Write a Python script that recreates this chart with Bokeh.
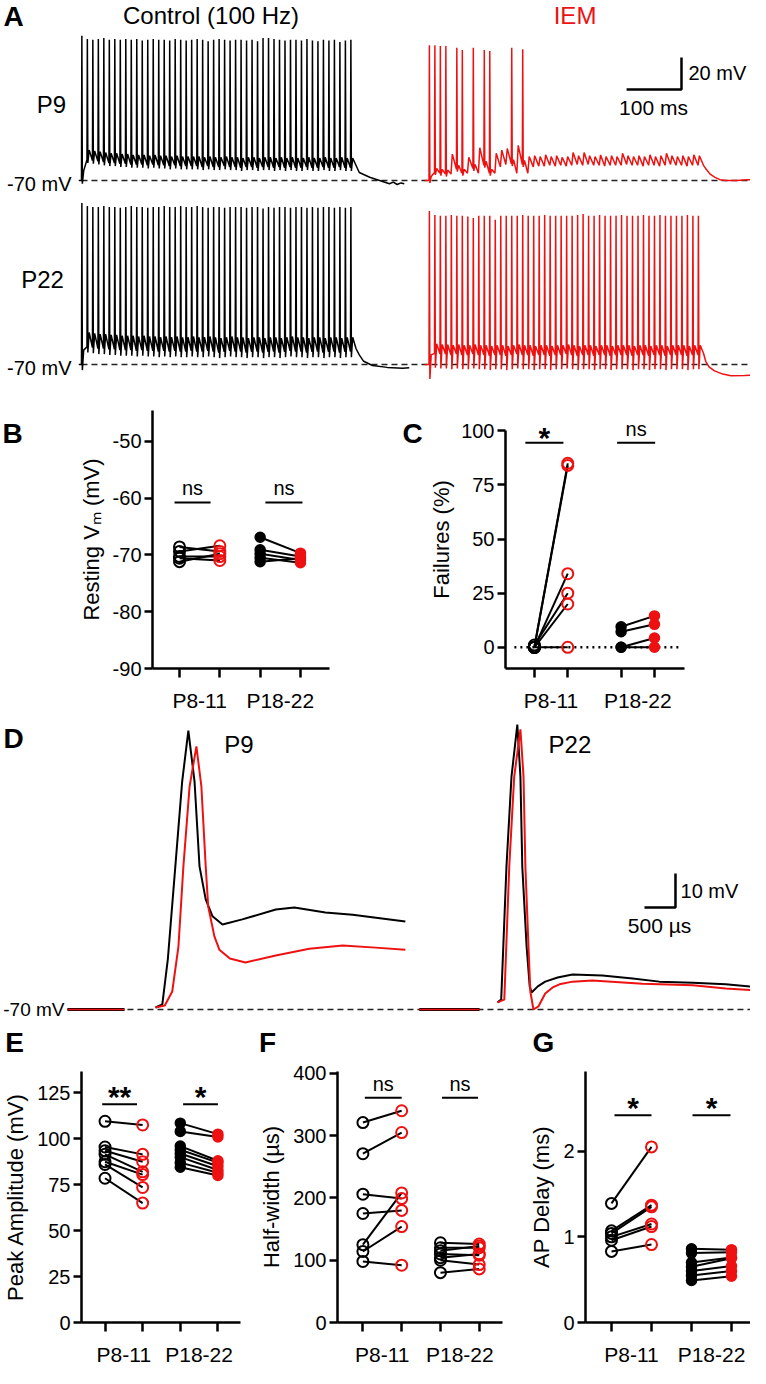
from bokeh.plotting import figure
from bokeh.models import Range1d, FixedTicker, Label
from bokeh.layouts import column, row
from bokeh.embed import file_html
from bokeh.resources import INLINE

FONT = "Liberation Sans"
RED = "#ee1111"
INK = "#000000"

# ================= Panel A : responses to 100 Hz trains =================
STIM_MS = 10            # 100 Hz
SPIKE_MIN_MV = -30      # responses above this level are spikes, below are EPSPs
IEM_OFFSET_MS = 633     # IEM sweep drawn to the right of the control sweep

ctl9_peak = [20.5, 18.5, 18.0, 18.5, 19.0, 18.0, 18.5, 18.0, 18.5, 18.0,
             18.5, 17.5, 18.0, 18.5, 18.0, 18.0, 17.5, 18.5, 18.0, 17.5,
             18.0, 18.5, 18.0, 17.0, 18.0, 18.5, 18.0, 17.5, 18.0, 18.0,
             17.5, 18.0, 17.0, 19.0, 19.0, 18.5, 18.0, 17.5, 18.0, 18.0,
             17.5, 18.5, 17.5, 17.0, 18.0, 17.5, 18.0, 16.5, 17.5, 18.0]
ctl9_base = [-70.0, -57.0, -57.5, -58.0, -58.5, -59.0, -59.0, -59.5, -59.5, -60.0,
             -60.0, -60.0, -60.5, -60.0, -60.5, -60.5, -61.0, -60.5, -61.0, -61.0,
             -61.0, -61.0, -61.5, -61.0, -61.5, -61.5, -61.0, -61.5, -61.5, -62.0,
             -61.5, -61.5, -62.0, -61.5, -61.5, -62.0, -61.5, -62.0, -61.5, -62.0,
             -62.0, -61.5, -62.0, -62.0, -61.5, -62.0, -62.0, -61.5, -62.0, -62.0]
ctl9_tail_t = [500, 506, 525, 543, 561, 568, 575, 582, 588]
ctl9_tail_v = [-60.5, -65.0, -68.0, -70.0, -72.0, -71.0, -72.5, -71.5, -72.0]

iem9_peak = [14.5, 14.5, 14.0, 14.0, -53.5, 13.0, 11.5, -55.5, 13.0, -49.5,
             11.5, 11.0, -53.0, -51.0, -50.0, 13.0, -48.0, 12.0, -55.0, -54.5,
             -55.0, -54.0, -55.0, -54.5, -55.5, -55.0, -52.5, -54.5, -52.5, -54.5,
             -55.0, -54.0, -55.0, -54.5, -55.0, -53.0, -54.5, -55.0, -54.5, -55.0,
             -54.0, -55.0, -54.5, -53.0, -54.5, -55.0, -54.5, -55.0, -54.0, -54.5]
iem9_base = [-70.0, -65.0, -65.5, -66.0, -66.0, -63.0, -65.5, -65.5, -62.5, -65.5,
             -60.5, -65.5, -65.5, -61.5, -60.0, -59.5, -65.5, -60.0, -65.5, -61.5,
             -61.0, -61.0, -60.5, -61.0, -60.5, -61.0, -60.5, -60.0, -60.5, -60.0,
             -60.5, -60.5, -61.0, -60.5, -60.5, -60.5, -60.0, -60.5, -60.5, -61.0,
             -60.5, -60.5, -61.0, -60.5, -60.0, -60.5, -60.5, -61.0, -60.5, -60.5]
iem9_tail_t = [500, 505, 512, 521, 530, 540, 560, 580, 600]
iem9_tail_v = [-60.5, -63.0, -66.0, -68.0, -69.5, -70.0, -70.0, -69.5, -69.5]

ctl22_peak = [31.0, 29.0, 28.5, 28.5, 29.0, 28.5, 28.5, 28.0, 28.5, 29.0,
              28.5, 28.5, 28.0, 28.5, 28.5, 29.0, 28.5, 28.5, 29.0, 28.5,
              28.5, 29.0, 28.5, 28.0, 28.5, 28.5, 28.0, 28.5, 28.5, 28.5,
              28.0, 28.5, 28.5, 27.5, 28.5, 28.0, 28.5, 28.5, 28.0, 28.5,
              28.5, 28.0, 28.5, 28.0, 28.5, 28.5, 28.0, 28.5, 28.0, 28.5]
ctl22_base = [-70.0, -59.0, -59.5, -60.0, -60.0, -60.5, -60.5, -61.0, -61.0, -61.0,
              -61.5, -61.0, -61.5, -61.5, -62.0, -61.5, -62.0, -61.5, -62.0, -62.0,
              -61.5, -62.0, -62.0, -61.5, -62.0, -62.5, -62.0, -61.5, -62.0, -62.0,
              -62.5, -62.0, -62.0, -62.5, -62.0, -62.0, -62.5, -62.0, -61.5, -62.0,
              -62.0, -62.5, -62.0, -62.0, -62.5, -62.0, -62.0, -62.5, -62.0, -62.0]
ctl22_tail_t = [500, 506, 514, 530, 557, 585, 597]
ctl22_tail_v = [-60.0, -64.0, -68.0, -70.6, -71.8, -72.3, -72.0]

iem22_peak = [26.0, 23.5, 23.0, 23.0, 23.5, 23.0, 23.0, 22.5, 21.5, 23.0,
              23.0, 23.0, 20.5, 23.0, 23.0, 23.0, 23.0, 23.5, 23.0, 23.0,
              23.0, 23.5, 23.0, 23.0, 23.0, 23.0, 23.0, 23.5, 24.0, 23.0,
              23.0, 23.5, 23.0, 23.0, 23.0, 23.5, 23.0, 23.0, 23.0, 23.5,
              23.0, 23.0, 23.5, 23.0, 23.0, 23.0, 23.0, 23.5, 23.0, 23.0]
iem22_base = [-70.0, -63.0, -63.5, -63.5, -64.0, -63.5, -64.0, -64.0, -63.5, -64.0,
              -64.0, -64.5, -64.0, -64.0, -64.5, -64.0, -63.5, -64.0, -64.0, -64.5,
              -64.0, -64.0, -64.5, -64.0, -64.0, -63.5, -64.0, -64.5, -64.0, -64.0,
              -64.5, -64.0, -64.0, -64.5, -64.0, -64.0, -64.0, -64.5, -64.0, -64.0,
              -64.5, -64.0, -64.0, -64.5, -64.0, -64.0, -64.0, -64.5, -64.0, -64.0]
iem22_tail_t = [500, 504, 510, 520, 535, 550, 575, 600]
iem22_tail_v = [-63.0, -68.0, -71.5, -74.0, -76.0, -77.0, -76.8, -76.5]

# spike waveform shape per trace: (after-hyperpolarisation depth, after-depolarisation rise)
SHAPE = {"ctl9": (2.0, 6.0), "iem9": (1.5, 2.5), "ctl22": (3.5, 9.0), "iem22": (9.0, 6.0)}

# ================= Panel D : single APs (ms from sweep start, mV) =================
P22_SHIFT_MS = 5.516
d9_pre_t = [-1.42, -0.5]
d22_pre_t = [-1.26, -0.29]
d9_ctl_t = [0, 0.11, 0.20, 0.32, 0.43, 0.53, 0.63, 0.71, 0.81, 0.92, 1.08, 1.40, 1.94, 2.24, 2.74, 3.18, 4.03]
d9_ctl_v = [-69.4, -68.5, -55.0, -27.9, -3.0, 12.0, -3.0, -27.9, -37.6, -42.6, -45.0, -43.5, -40.6, -40.0, -41.5, -42.1, -44.1]
d9_iem_t = [0, 0.15, 0.27, 0.37, 0.45, 0.55, 0.66, 0.74, 0.81, 0.85, 0.95, 1.03, 1.20, 1.45, 1.94, 2.48, 3.02, 3.55, 4.03]
d9_iem_v = [-69.4, -68.8, -64.7, -51.5, -27.9, -4.4, 7.4, -4.4, -27.9, -39.7, -48.5, -52.4, -55.0, -56.2, -54.1, -52.1, -51.2, -51.8, -52.4]
d22_ctl_t = [0, 0.06, 0.145, 0.226, 0.32, 0.37, 0.40, 0.47, 0.52, 0.55, 0.65, 0.77, 0.97, 1.21, 1.69, 2.18, 2.61, 3.15, 3.68, 4.21]
d22_ctl_v = [-67.9, -67.1, -27.9, -1.5, 13.8, -1.5, -27.9, -51.5, -63.2, -65.0, -63.2, -61.8, -60.6, -59.7, -60.0, -60.9, -61.8, -62.1, -62.6, -63.5]
d22_iem_t = [0, 0.11, 0.19, 0.27, 0.37, 0.42, 0.45, 0.50, 0.53, 0.58, 0.66, 0.77, 0.89, 1.0, 1.21, 1.53, 2.34, 3.15, 3.68, 4.21]
d22_iem_v = [-67.9, -67.1, -27.9, -1.5, 12.4, -1.5, -27.9, -51.5, -64.7, -70.0, -69.1, -65.3, -63.5, -62.6, -61.8, -61.5, -62.4, -62.9, -63.8, -64.4]

# ================= Summary panels =================
GROUPS = ["P8-11", "P18-22"]
B_p811_ctl = [-68.6, -69.4, -70.3, -70.6, -71.2]
B_p811_iem = [-69.4, -68.4, -70.3, -71.0, -69.8]
B_p1822_ctl = [-66.9, -69.1, -69.8, -70.5, -71.2]
B_p1822_iem = [-69.7, -70.3, -70.9, -71.4, -70.6]

C_p811_ctl = [0, 0, 0, 1.0, 0, 0]
C_p811_iem = [85, 84, 34, 25, 20, 0]
C_p1822_ctl = [9.5, 7.2, 0, 0]
C_p1822_iem = [14.5, 10.6, 4.3, 0]

E_p811_ctl = [109.5, 95.5, 93.5, 91.5, 87.5, 86.0, 78.5]
E_p811_iem = [107.5, 91.5, 87.5, 82.0, 80.5, 73.5, 65.0]
E_p1822_ctl = [108.5, 104.0, 96.0, 94.0, 92.0, 90.0, 87.0, 84.5]
E_p1822_iem = [102.5, 101.0, 88.0, 87.0, 85.0, 83.0, 81.5, 80.0]

F_p811_ctl = [321, 271, 206, 175, 125, 114, 98]
F_p811_iem = [340, 305, 199, 180, 208, 154, 92]
F_p1822_ctl = [128, 120, 115, 110, 104, 100, 80]
F_p1822_iem = [126, 120, 123, 108, 110, 93, 86]

G_p811_ctl = [1.39, 1.07, 1.04, 1.00, 0.96, 0.83]
G_p811_iem = [2.05, 1.37, 1.35, 1.15, 1.12, 0.91]
G_p1822_ctl = [0.86, 0.81, 0.70, 0.65, 0.60, 0.55, 0.49]
G_p1822_iem = [0.85, 0.82, 0.76, 0.75, 0.66, 0.60, 0.54]


# ---------------------------------------------------------------
def build_train(peaks, bases, tail_t, tail_v, pre_t, shape, offset=0.0):
    ahp, adp = shape
    t, v = [pre_t], [-70.0]
    for i, (pk, b) in enumerate(zip(peaks, bases)):
        t0 = i * STIM_MS
        t.append(t0); v.append(b)
        if pk > SPIKE_MIN_MV:
            t += [t0 + 0.7, t0 + 1.6, t0 + 4.0]
            v += [pk, b - ahp, b + adp]
        else:
            t.append(t0 + 2.5); v.append(pk)
    t += list(tail_t); v += list(tail_v)
    return [x + offset for x in t], v


def blank(w, h, xr, yr):
    p = figure(width=w, height=h, x_range=Range1d(*xr), y_range=Range1d(*yr),
               output_backend="svg", toolbar_location=None,
               x_axis_location=None, y_axis_location=None, min_border=0)
    p.grid.visible = False
    p.outline_line_color = None
    return p


def label(p, x, y, text, size, align="center", color=INK, bold=False):
    p.add_layout(Label(x=x, y=y, text=text,
                       text_font=FONT, text_font_size=f"{size}px",
                       text_font_style="bold" if bold else "normal",
                       text_align=align, text_baseline="middle", text_color=color))


def letter_fig(w, h, letters):
    """Blank strip holding panel letters (positions in pixels inside the strip)."""
    p = blank(w, h, (0, w), (0, h))
    for x, y, s in letters:
        label(p, x, y, s, 28, bold=True)
    return p


def dot_panel(w, h, left, right, top, bottom, xr, yr, yticks, ylabel, xpos, gpos,
              ybounds="auto", label_standoff=6):
    p = figure(width=w, height=h, x_range=Range1d(*xr), y_range=Range1d(*yr),
               output_backend="svg", toolbar_location=None,
               min_border_left=left, min_border_right=right,
               min_border_top=top, min_border_bottom=bottom)
    p.grid.visible = False
    p.outline_line_color = None
    xa, ya = p.xaxis[0], p.yaxis[0]
    for ax in (xa, ya):
        ax.axis_line_width = 2.5
        ax.axis_line_color = INK
        ax.major_label_text_font = FONT
        ax.major_label_text_color = INK
        ax.axis_label_text_font = FONT
        ax.axis_label_text_font_style = "normal"
        ax.axis_label_text_font_size = "22px"
        ax.axis_label_text_color = INK
    ya.ticker = FixedTicker(ticks=yticks, minor_ticks=[])
    ya.major_label_overrides = {t: str(t) for t in yticks}
    ya.major_tick_out = 8
    ya.major_tick_in = 0
    ya.minor_tick_out = 0
    ya.minor_tick_in = 0
    ya.major_tick_line_width = 2.5
    ya.major_tick_line_color = INK
    ya.major_label_text_font_size = "20px"
    ya.major_label_standoff = 3
    ya.axis_label = ylabel
    ya.axis_label_standoff = label_standoff
    ya.bounds = ybounds
    xa.ticker = FixedTicker(ticks=gpos, minor_ticks=xpos)
    xa.major_label_overrides = dict(zip(gpos, GROUPS))
    xa.major_tick_out = 0
    xa.major_tick_in = 0
    xa.major_tick_line_color = None
    xa.minor_tick_out = 9
    xa.minor_tick_in = 0
    xa.minor_tick_line_width = 2.5
    xa.minor_tick_line_color = INK
    xa.major_label_text_font_size = "21px"
    xa.major_label_standoff = 11
    return p


def pairs(p, x0, x1, a, b, filled):
    n = len(a)
    p.segment(x0=[x0] * n, y0=a, x1=[x1] * n, y1=b, line_color=INK, line_width=2)
    if filled:
        p.scatter(x=[x0] * n, y=a, size=10, fill_color=INK, line_color=INK, line_width=1.5)
        p.scatter(x=[x1] * n, y=b, size=10, fill_color=RED, line_color=RED, line_width=1.5)
    else:
        p.scatter(x=[x0] * n, y=a, size=11, fill_color=None, line_color=INK, line_width=2)
        p.scatter(x=[x1] * n, y=b, size=11, fill_color=None, line_color=RED, line_width=2)


def sig(p, x0, x1, ybar, ytxt, text, star):
    p.segment(x0=[x0], y0=[ybar], x1=[x1], y1=[ybar], line_color=INK, line_width=2)
    label(p, (x0 + x1) / 2, ytxt, text, 30 if star else 20, bold=star)


# ---------------- Panel A ----------------
A_X = (-147.5, 1218.6)
pA1 = blank(750, 196, A_X, (-80.0, 42.5))
pA2 = blank(750, 186, A_X, (-81.25, 35.0))
for p in (pA1, pA2):
    p.line(x=[0, A_X[1]], y=[-70, -70], line_color="#222222", line_width=1.3, line_dash="6 4")

x, y = build_train(ctl9_peak, ctl9_base, ctl9_tail_t, ctl9_tail_v, -5, SHAPE["ctl9"])
pA1.line(x, y, line_color=INK, line_width=1.5)
x, y = build_train(iem9_peak, iem9_base, iem9_tail_t, iem9_tail_v, -8, SHAPE["iem9"], IEM_OFFSET_MS)
pA1.line(x, y, line_color=RED, line_width=1.5)
x, y = build_train(ctl22_peak, ctl22_base, ctl22_tail_t, ctl22_tail_v, -5, SHAPE["ctl22"])
pA2.line(x, y, line_color=INK, line_width=1.5)
x, y = build_train(iem22_peak, iem22_base, iem22_tail_t, iem22_tail_v, -8, SHAPE["iem22"], IEM_OFFSET_MS)
pA2.line(x, y, line_color=RED, line_width=1.5)

label(pA1, -123.8, 32.5, "A", 28, bold=True)
label(pA1, 236, 33.1, "Control (100 Hz)", 24)
label(pA1, 899, 33.1, "IEM", 24, color=RED)
label(pA1, -54.6, -22.5, "P9", 24)
label(pA1, -18.2, -71.9, "-70 mV", 20, align="right")
pA1.line(x=[992.9, 1092.9, 1092.9], y=[-13.1, -13.1, 6.9], line_color=INK, line_width=2.5)
label(pA1, 1105.6, -3.1, "20 mV", 20, align="left")
label(pA1, 1042, -24.4, "100 ms", 21)
label(pA2, -71, -16.9, "P22", 24)
label(pA2, -18.2, -71.9, "-70 mV", 20, align="right")

# ---------------- Panels B & C ----------------
lB = letter_fig(30, 332, [(12, 302, "B")])
pB = dot_panel(342, 332, 122, 43, 28, 42, (0.33, 4.72), (-90, -44.6),
               [-90, -80, -70, -60, -50], "Resting V\u2098 (mV)", [1, 2, 3, 4], [1.5, 3.5])
pairs(pB, 1, 2, B_p811_ctl, B_p811_iem, False)
pairs(pB, 3, 4, B_p1822_ctl, B_p1822_iem, True)
sig(pB, 0.876, 1.77, -60.8, -58.2, "ns", False)
sig(pB, 3.13, 4.05, -60.8, -58.2, "ns", False)

lC = letter_fig(54, 332, [(40, 302, "C")])
pC = dot_panel(324, 332, 79, 66, 10, 42, (0.134, 5.5), (-9.8, 109.4),
               [0, 25, 50, 75, 100], "Failures (%)", [1, 2, 3.6, 4.6], [1.5, 4.1],
               ybounds=(-9.8, 100), label_standoff=4)
pC.line(x=[0.4, 5.42], y=[0, 0], line_color=INK, line_width=2.5, line_dash="2 4")
pairs(pC, 1, 2, C_p811_ctl, C_p811_iem, False)
pairs(pC, 3.6, 4.6, C_p1822_ctl, C_p1822_iem, True)
sig(pC, 0.73, 1.87, 94.5, 97.0, "*", True)
sig(pC, 3.48, 4.62, 94.5, 100.9, "ns", False)

# ---------------- Panel D ----------------
pD = blank(750, 308, (-2.5, 9.597), (-73.82, 16.76))
pD.line(x=[-1.42, 9.597], y=[-70, -70], line_color="#222222", line_width=1.3, line_dash="6 4")
for shift, pre in ((0.0, d9_pre_t), (P22_SHIFT_MS, d22_pre_t)):
    pD.line(x=[t + shift for t in pre], y=[-70, -70], line_color=INK, line_width=3)
    pD.line(x=[t + shift for t in pre], y=[-70, -70], line_color=RED, line_width=1.5)
pD.line(d9_ctl_t, d9_ctl_v, line_color=INK, line_width=2)
pD.line(d9_iem_t, d9_iem_v, line_color=RED, line_width=2)
pD.line([t + P22_SHIFT_MS for t in d22_ctl_t], d22_ctl_v, line_color=INK, line_width=2)
pD.line([t + P22_SHIFT_MS for t in d22_iem_t], d22_iem_v, line_color=RED, line_width=2)
label(pD, -2.29, 9.7, "D", 28, bold=True)
label(pD, 1.11, 7.9, "P9", 24, align="left")
label(pD, 6.34, 7.9, "P22", 24, align="left")
label(pD, -1.468, -70, "-70 mV", 19, align="right")
pD.line(x=[7.887, 8.387, 8.387], y=[-40, -40, -30], line_color=INK, line_width=2.5)
label(pD, 8.468, -35, "10 mV", 20, align="left")
label(pD, 8.13, -45.3, "500 \u00b5s", 21)

# ---------------- Panels E, F, G ----------------
lEFG = letter_fig(750, 36, [(14, 16, "E"), (267, 16, "F"), (543, 16, "G")])

pE = dot_panel(252, 310, 76, 12, 13, 36, (0.375, 4.6), (0, 136.6),
               [0, 25, 50, 75, 100, 125], "Peak Amplitude (mV)", [1, 2, 3, 4], [1.5, 3.5])
pairs(pE, 1, 2, E_p811_ctl, E_p811_iem, False)
pairs(pE, 3, 4, E_p1822_ctl, E_p1822_iem, True)
sig(pE, 0.925, 1.85, 118.8, 123.0, "**", True)
sig(pE, 3.075, 4.0, 118.8, 123.0, "*", True)

pF = dot_panel(253, 310, 85, 3, 13, 36, (0.345, 4.6), (0, 403),
               [0, 100, 200, 300, 400], "Half-width (\u00b5s)", [1, 2, 3, 4], [1.5, 3.5])
pairs(pF, 1, 2, F_p811_ctl, F_p811_iem, False)
pairs(pF, 3, 4, F_p1822_ctl, F_p1822_iem, False)
sig(pF, 1.05, 2.0, 361, 383, "ns", False)
sig(pF, 3.04, 3.97, 361, 383, "ns", False)

pG = dot_panel(245, 310, 80, 0, 13, 36, (0.35, 4.475), (0, 2.93),
               [0, 1, 2], "AP Delay (ms)", [1, 2, 3, 4], [1.5, 3.5])
pairs(pG, 1, 2, G_p811_ctl, G_p811_iem, False)
pairs(pG, 3, 4, G_p1822_ctl, G_p1822_iem, True)
sig(pG, 1.075, 2.0, 2.42, 2.506, "*", True)
sig(pG, 3.025, 3.975, 2.42, 2.506, "*", True)

layout = column(pA1, pA2, row(lB, pB, lC, pC), pD, lEFG, row(pE, pF, pG))
open("out.html", "w").write(file_html(layout, INLINE))
